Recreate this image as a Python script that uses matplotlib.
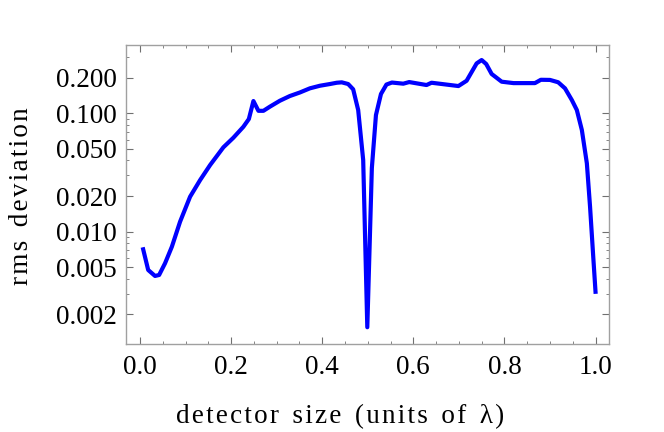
import matplotlib
matplotlib.use("Agg")
import matplotlib.pyplot as plt
from matplotlib.ticker import FixedLocator, FixedFormatter, LogLocator, NullFormatter, MultipleLocator

plt.rcParams['font.family'] = ['Liberation Serif', 'DejaVu Serif']

detector_size = [0.007, 0.018, 0.033, 0.042, 0.055, 0.070, 0.088, 0.110, 0.132, 0.154,
                 0.183, 0.205, 0.227, 0.239, 0.249, 0.260, 0.271, 0.285, 0.307, 0.329,
                 0.351, 0.373, 0.395, 0.417, 0.432, 0.443, 0.457, 0.468, 0.479, 0.490,
                 0.499, 0.509, 0.518, 0.529, 0.541, 0.553, 0.578, 0.591, 0.629, 0.640,
                 0.699, 0.717, 0.739, 0.750, 0.760, 0.772, 0.794, 0.820, 0.867, 0.880,
                 0.900, 0.918, 0.933, 0.948, 0.959, 0.970, 0.981, 0.988, 0.995, 1.000]
rms_dev = [0.0071, 0.00475, 0.00423, 0.00431, 0.00541, 0.00747, 0.01215, 0.01976, 0.0273, 0.0366,
           0.0516, 0.0622, 0.077, 0.0895, 0.127, 0.105, 0.105, 0.1137, 0.1277, 0.140,
           0.150, 0.1626, 0.171, 0.1768, 0.1813, 0.1827, 0.1768, 0.1595, 0.1066, 0.0403,
           0.00156, 0.0345, 0.0967, 0.1456, 0.175, 0.182, 0.178, 0.1837, 0.1734, 0.1813,
           0.170, 0.1884, 0.264, 0.282, 0.261, 0.215, 0.185, 0.180, 0.180, 0.192,
           0.1915, 0.183, 0.1626, 0.1295, 0.1066, 0.0723, 0.0378, 0.01626, 0.00615, 0.00311]

x_ticks = [0.0, 0.2, 0.4, 0.6, 0.8, 1.0]
x_labels = ["0.0", "0.2", "0.4", "0.6", "0.8", "1.0"]
y_ticks = [0.002, 0.005, 0.010, 0.020, 0.050, 0.100, 0.200]
y_labels = ["0.002", "0.005", "0.010", "0.020", "0.050", "0.100", "0.200"]

x_title = "detector size (units of \u03bb)"
y_title = "rms deviation"

def spaced(s, sep):
    out = []
    for w in s.split(" "):
        out.append(sep.join(w))
    return "  ".join(out)

fig = plt.figure(figsize=(6.64, 4.32), dpi=100)
ax = fig.add_axes([126/664, 1-344/432, (609-126)/664, (344-45)/432])
ax.plot(detector_size, rms_dev, color=(0, 0, 1), lw=3.0, solid_joinstyle='round')
ax.set_yscale('log')
ax.set_xlim(-0.0307, 1.0296)
ax.set_ylim(0.001126, 0.3777)

ax.xaxis.set_major_locator(FixedLocator(x_ticks))
ax.xaxis.set_major_formatter(FixedFormatter(x_labels))
ax.xaxis.set_minor_locator(MultipleLocator(0.05))
ax.yaxis.set_major_locator(FixedLocator(y_ticks))
ax.yaxis.set_major_formatter(FixedFormatter(y_labels))
ax.yaxis.set_minor_locator(LogLocator(base=10, subs=(2, 3, 4, 5, 6, 7, 8, 9)))
ax.yaxis.set_minor_formatter(NullFormatter())

frame_col = '#a0a0a0'
for sp in ax.spines.values():
    sp.set_color(frame_col)
    sp.set_linewidth(1.0)
ax.tick_params(which='both', direction='in', top=True, right=True, color='#707070',
               labelsize=19.5, labelcolor='black')
ax.tick_params(which='major', length=5, width=0.8)
ax.tick_params(axis='y', which='major', pad=6.5)
ax.tick_params(axis='x', which='major', pad=8)
ax.tick_params(which='minor', length=2.5, width=0.6)

fig.text(340/664, 1-417/432, spaced(x_title, "\u200a"), fontsize=19.5, ha='center', va='center')
fig.text(22/664, 1-196.5/432, spaced(y_title, "\u200a"), fontsize=19.5, ha='center', va='center',
         rotation=90)

fig.savefig("out.png", dpi=100)
